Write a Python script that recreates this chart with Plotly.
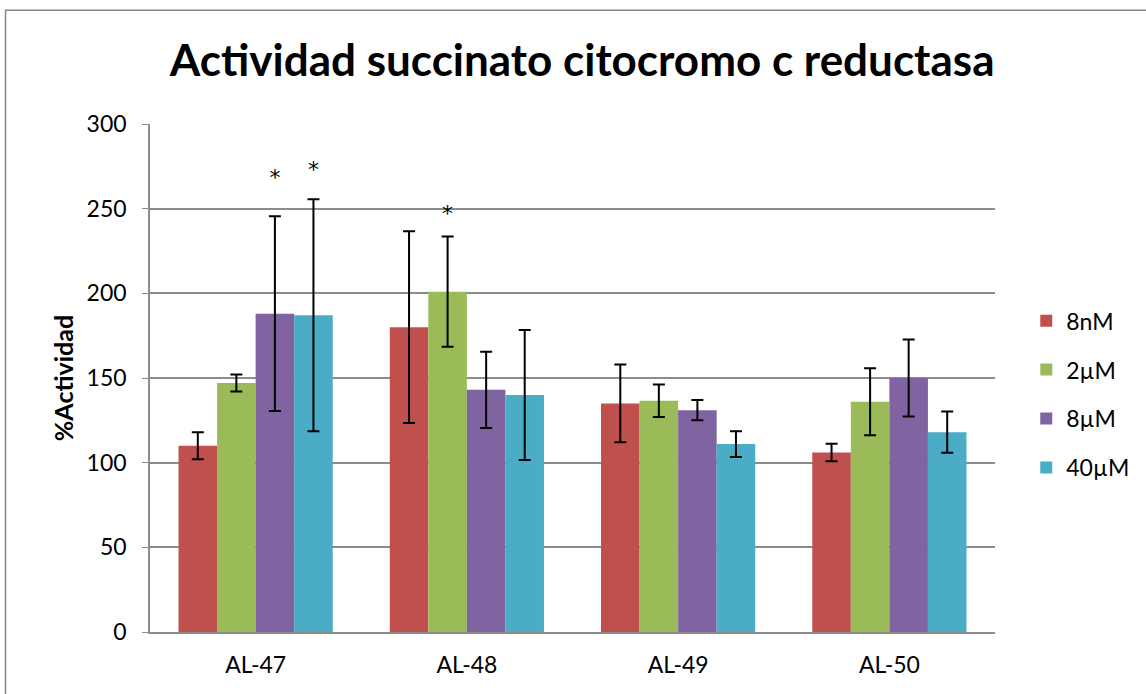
import plotly.graph_objects as go

categories = ["AL-47", "AL-48", "AL-49", "AL-50"]
series_names = ["8nM", "2µM", "8µM", "40µM"]
colors = ["#C0504D", "#9BBB59", "#8064A2", "#4BACC6"]

v_8nM = [110, 180, 135, 106]
v_2uM = [147, 201, 136.5, 136]
v_8uM = [188, 143, 131, 150]
v_40uM = [187, 140, 111, 118]

e_8nM = [8, 56.6, 23, 5.2]
e_2uM = [5, 32.6, 9.6, 19.8]
e_8uM = [57.5, 22.5, 6, 22.7]
e_40uM = [68.5, 38.4, 7.6, 12.2]

# asterisk heights (data units), None = no asterisk
s_8nM = [None, None, None, None]
s_2uM = [None, 238, None, None]
s_8uM = [259, None, None, None]
s_40uM = [264, None, None, None]

values = [v_8nM, v_2uM, v_8uM, v_40uM]
errors = [e_8nM, e_2uM, e_8uM, e_40uM]
stars = [s_8nM, s_2uM, s_8uM, s_40uM]

FONT = "Lato"
fig = go.Figure()
for i, name in enumerate(series_names):
    fig.add_trace(go.Bar(
        x=categories, y=values[i], name=name, offsetgroup=str(i),
        legendgroup=str(i),
        marker=dict(color=colors[i], line=dict(width=0)),
        error_y=dict(type="data", array=errors[i], color="black", thickness=2, width=6),
    ))
for i, name in enumerate(series_names):
    if any(s is not None for s in stars[i]):
        fig.add_trace(go.Bar(
            x=categories, y=stars[i], offsetgroup=str(i), showlegend=False,
            marker=dict(color="rgba(0,0,0,0)", line=dict(width=0)),
            text=["*" if s is not None else "" for s in stars[i]],
            textposition="outside", cliponaxis=False,
            textfont=dict(family="DejaVu Sans", size=22, color="black"),
            hoverinfo="skip",
        ))

fig.update_layout(
    width=1146, height=694,
    margin=dict(l=150, r=146, t=124, b=62),
    paper_bgcolor="white", plot_bgcolor="white",
    barmode="group", bargap=0.27, bargroupgap=0,
    font=dict(family=FONT, color="black", size=23),
    title=dict(text="<b>Actividad succinato citocromo c reductasa</b>",
               x=0.508, xref="container", xanchor="center",
               y=1 - 61 / 694, yref="container", yanchor="middle",
               font=dict(family=FONT, size=44, color="black")),
    legend=dict(x=1.037, y=0.655, xanchor="left", yanchor="top",
                font=dict(family=FONT, size=23), tracegroupgap=16,
                itemwidth=30),
    shapes=[dict(type="rect", xref="paper", yref="paper",
                 x0=-0.171, x1=1.3, y0=-0.5, y1=1.224,
                 line=dict(color="#868686", width=1.5), layer="below")],
)
fig.update_yaxes(range=[0, 300], dtick=50, showgrid=True, gridcolor="#8C8C8C",
                 gridwidth=1.5, showline=True, linecolor="#8C8C8C", linewidth=1.5,
                 ticks="outside", ticklen=6, tickcolor="#8C8C8C",
                 ticklabelstandoff=11, zeroline=False,
                 title=dict(text="<b>%Actividad</b>", font=dict(family=FONT, size=25),
                            standoff=6))
fig.update_xaxes(showline=True, linecolor="#8C8C8C", linewidth=1.5,
                 ticks="", ticklabelstandoff=12)

fig.write_html("out.html", post_script="document.body.style.margin='0';",
               config={"displayModeBar": False})
